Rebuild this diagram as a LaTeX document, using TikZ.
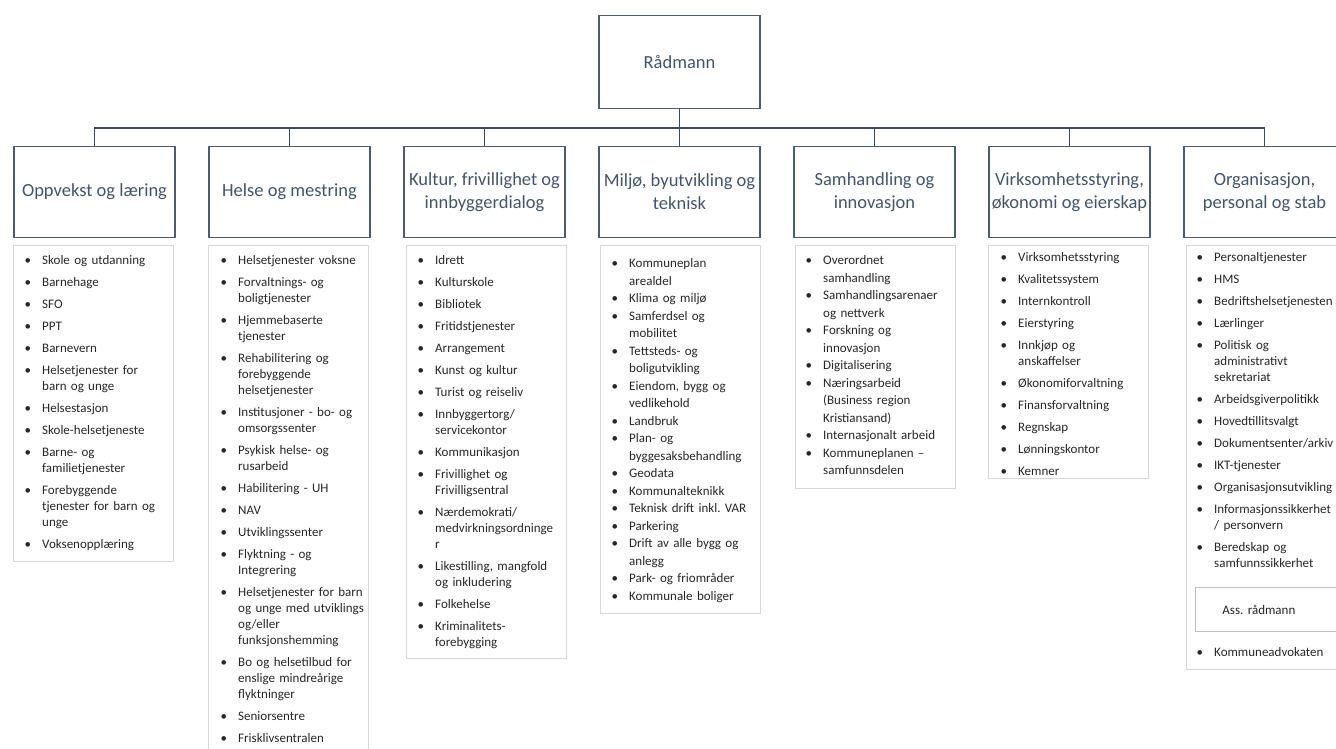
\documentclass[tikz,border=0pt]{standalone}
\usepackage{fontspec}
\setmainfont{Carlito}
\definecolor{hdr}{HTML}{44546A}
\definecolor{hdrline}{HTML}{4F5B6B}
\definecolor{connc}{HTML}{3E4A5A}
\definecolor{listline}{HTML}{D6D6D6}
\definecolor{asscol}{HTML}{BFBFBF}
\definecolor{txt}{HTML}{262626}
\newcommand\bi[1]{\par\noindent\llap{\textbullet\hspace{11pt}}\rule[-4pt]{0pt}{15pt}#1\par}
\begin{document}
\begin{tikzpicture}[x=1pt,y=-1pt,
  box/.style={draw=hdrline, line width=1.3pt, minimum width=161pt, minimum height=91pt, inner sep=2pt, align=center, text=hdr, font=\fontsize{18.5pt}{23pt}\selectfont},
  conn/.style={draw=connc, line width=1.4pt},
  listbox/.style={draw=listline, line width=0.9pt, anchor=north west, minimum width=160pt, inner sep=0pt},
  itemtext/.style={anchor=north west, inner sep=0pt, text width=300pt, align=left, text=txt, font=\fontsize{13pt}{16pt}\selectfont, execute at begin node={\setlength{\parskip}{6pt}}},
  tightlist/.style={font=\fontsize{13pt}{17.5pt}\selectfont, execute at begin node={\setlength{\parskip}{0pt}}},
  assbox/.style={draw=asscol, line width=0.9pt, anchor=north west, minimum height=44pt, text width=120pt, inner xsep=27pt, inner ysep=0pt, align=left, text=txt, font=\fontsize{13pt}{16pt}\selectfont}
]
\clip (0,0) rectangle (1336,749);

% top and header boxes
\node[box, minimum height=93pt] (rad) at (679.5,62) {Rådmann};
\node[box] (h1) at (94.5,192) {Oppvekst og læring};
\node[box] (h2) at (289.5,192) {Helse og mestring};
\node[box] (h3) at (484.5,192) {Kultur, frivillighet og\\innbyggerdialog};
\node[box] (h4) at (679.5,192) {Miljø, byutvikling og\\teknisk};
\node[box] (h5) at (874.5,192) {Samhandling og\\innovasjon};
\node[box] (h6) at (1069.5,192) {Virksomhetsstyring,\\økonomi og eierskap};
\node[box] (h7) at (1264.5,192) {Organisasjon,\\personal og stab};

% connectors
\foreach \i in {1,...,7} \draw[conn] (rad.south) -- ++(0,19) -| (h\i.north);

% list frames
\node[listbox, minimum height=316pt] (l1) at (13,245) {};
\node[listbox, minimum height=520pt] (l2) at (208,245) {};
\node[listbox, minimum height=413pt] (l3) at (406,245) {};
\node[listbox, minimum height=368pt] (l4) at (600,245) {};
\node[listbox, minimum height=243pt] (l5) at (795,245) {};
\node[listbox, minimum height=233pt] (l6) at (988,245) {};
\node[listbox, minimum height=424pt] (l7) at (1186,245) {};

% list texts
\node[itemtext] (t1) at (42,242) {%
\bi{Skole og utdanning}
\bi{Barnehage}
\bi{SFO}
\bi{PPT}
\bi{Barnevern}
\bi{Helsetjenester for\\barn og unge}
\bi{Helsestasjon}
\bi{Skole-helsetjeneste}
\bi{Barne- og\\familietjenester}
\bi{Forebyggende\\tjenester for barn og\\unge}
\bi{Voksenopplæring}};

\node[itemtext] (t2) at (238,242) {%
\bi{Helsetjenester voksne}
\bi{Forvaltnings- og\\boligtjenester}
\bi{Hjemmebaserte\\tjenester}
\bi{Rehabilitering og\\forebyggende\\helsetjenester}
\bi{Institusjoner - bo- og\\omsorgssenter}
\bi{Psykisk helse- og\\rusarbeid}
\bi{Habilitering - UH}
\bi{NAV}
\bi{Utviklingssenter}
\bi{Flyktning - og\\Integrering}
\bi{Helsetjenester for barn\\og unge med utviklings\\og/eller\\funksjonshemming}
\bi{Bo og helsetilbud for\\enslige mindreårige\\flyktninger}
\bi{Seniorsentre}
\bi{Frisklivsentralen}};

\node[itemtext] (t3) at (435,242) {%
\bi{Idrett}
\bi{Kulturskole}
\bi{Bibliotek}
\bi{Fritidstjenester}
\bi{Arrangement}
\bi{Kunst og kultur}
\bi{Turist og reiseliv}
\bi{Innbyggertorg/\\servicekontor}
\bi{Kommunikasjon}
\bi{Frivillighet og\\Frivilligsentral}
\bi{Nærdemokrati/\\medvirkningsordninge\\r}
\bi{Likestilling, mangfold\\og inkludering}
\bi{Folkehelse}
\bi{Kriminalitets-\\forebygging}};

\node[itemtext, tightlist] (t4) at (629,250) {%
\bi{Kommuneplan\\arealdel}
\bi{Klima og miljø}
\bi{Samferdsel og\\mobilitet}
\bi{Tettsteds- og\\boligutvikling}
\bi{Eiendom, bygg og\\vedlikehold}
\bi{Landbruk}
\bi{Plan- og\\byggesaksbehandling}
\bi{Geodata}
\bi{Kommunalteknikk}
\bi{Teknisk drift inkl.\ VAR}
\bi{Parkering}
\bi{Drift av alle bygg og\\anlegg}
\bi{Park- og friområder}
\bi{Kommunale boliger}};

\node[itemtext, tightlist] (t5) at (823,247) {%
\bi{Overordnet\\samhandling}
\bi{Samhandlingsarenaer\\og nettverk}
\bi{Forskning og\\innovasjon}
\bi{Digitalisering}
\bi{Næringsarbeid\\(Business region\\Kristiansand)}
\bi{Internasjonalt arbeid}
\bi{Kommuneplanen –\\samfunnsdelen}};

\node[itemtext] (t6) at (1018,239) {%
\bi{Virksomhetsstyring}
\bi{Kvalitetssystem}
\bi{Internkontroll}
\bi{Eierstyring}
\bi{Innkjøp og\\anskaffelser}
\bi{Økonomiforvaltning}
\bi{Finansforvaltning}
\bi{Regnskap}
\bi{Lønningskontor}
\bi{Kemner}};

\node[itemtext] (t7) at (1214,239) {%
\bi{Personaltjenester}
\bi{HMS}
\bi{Bedriftshelsetjenesten}
\bi{Lærlinger}
\bi{Politisk og\\administrativt\\sekretariat}
\bi{Arbeidsgiverpolitikk}
\bi{Hovedtillitsvalgt}
\bi{Dokumentsenter/arkiv}
\bi{IKT-tjenester}
\bi{Organisasjonsutvikling}
\bi{Informasjonssikkerhet\\/ personvern}
\bi{Beredskap og\\samfunnssikkerhet}};

\node[assbox] (ass) at (1195,587) {Ass.\ rådmann};
\node[itemtext] (t8) at (1214,634) {\bi{Kommuneadvokaten}};
\end{tikzpicture}
\end{document}
